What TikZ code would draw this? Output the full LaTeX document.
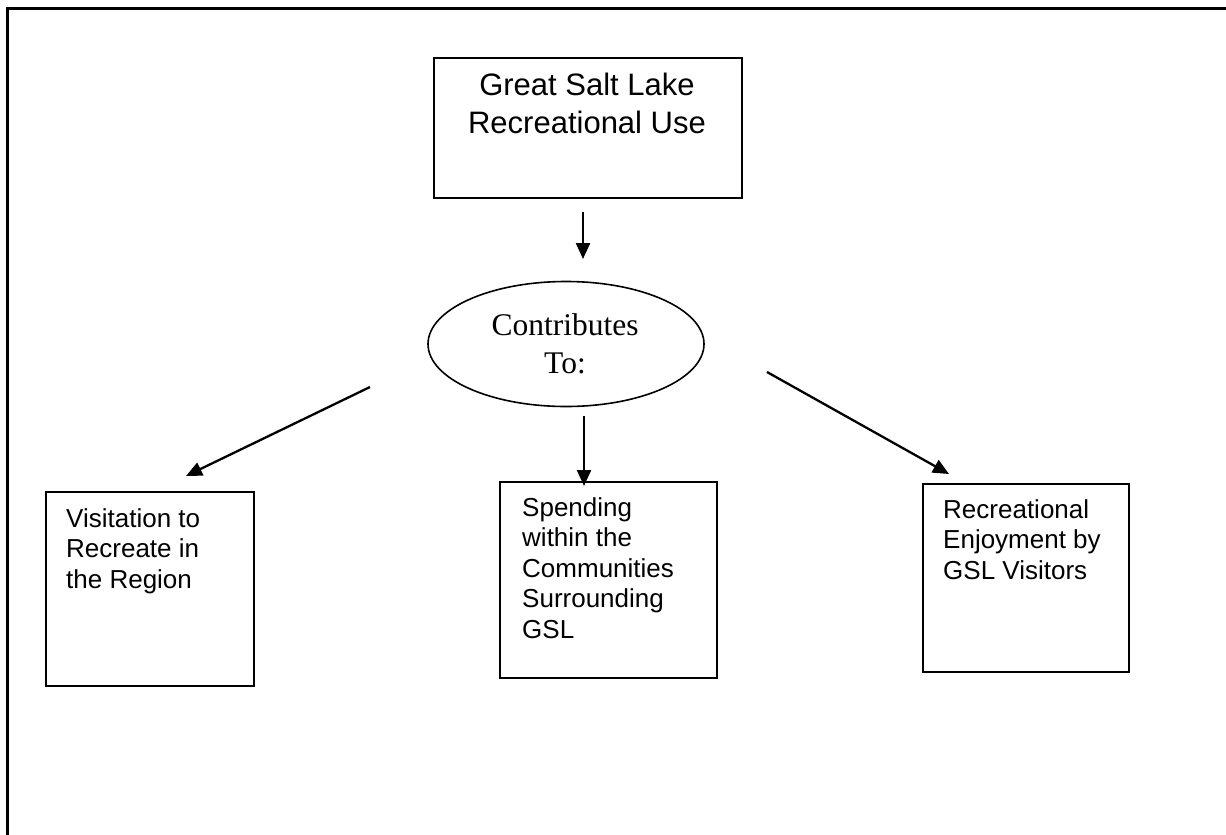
\documentclass[tikz,border=0pt]{standalone}
\usepackage{fontspec}
\setmainfont{Liberation Sans}
\newfontfamily\timesfont{Liberation Serif}
\usetikzlibrary{arrows.meta,shapes.geometric}
\tikzset{
  boxstyle/.style={draw=black, line width=1.8pt, rectangle, inner sep=0pt, anchor=north west},
  arrowstyle/.style={line width=2.3pt, -{Triangle[length=16pt,width=14pt]}},
  labelstyle/.style={anchor=base west, inner sep=0pt, align=left},
  bigtext/.style={font=\fontsize{31}{38}\selectfont},
  smalltext/.style={font=\fontsize{26}{30.4}\selectfont},
}
\begin{document}
\begin{tikzpicture}[x=1pt,y=-1pt]
\useasboundingbox[fill=white] (0,0) rectangle (1226,835);
% outer frame (top and left edges only)
\draw[line width=3pt] (7,835) -- (7,8) -- (1226,8);

% top box
\node[boxstyle, minimum width=308pt, minimum height=140pt] (top) at (433,57) {};
\node[inner sep=0pt, anchor=base, align=center, bigtext] (toptext) at (587,133) {Great Salt Lake\\Recreational Use};

% ellipse
\node[draw, ellipse, line width=1.6pt, minimum width=276pt, minimum height=125pt, inner sep=0pt] (ell) at (566,344) {};
\node[inner sep=0pt, anchor=base, align=center, font=\timesfont\fontsize{31.5}{38}\selectfont] (elltext) at (565,373) {Contributes\\To:};

% bottom boxes
\node[boxstyle, minimum width=208pt, minimum height=194pt] (left) at (45,491) {};
\node[labelstyle, smalltext] (lefttext) at (66,588) {Visitation to\\Recreate in\\the Region};

\node[boxstyle, minimum width=217pt, minimum height=196pt] (mid) at (499,481) {};
\node[labelstyle, smalltext] (midtext) at (522,638) {Spending\\within the\\Communities\\Surrounding\\GSL};

\node[boxstyle, minimum width=206pt, minimum height=188pt] (right) at (922,483) {};
\node[labelstyle, smalltext] (righttext) at (943,579) {Recreational\\Enjoyment by\\GSL Visitors};

% connector end points
\coordinate (a1s) at (583,212);
\coordinate (a1e) at (583,259);
\coordinate (a2s) at (584,416);
\coordinate (a2e) at (584,486);
\coordinate (a3s) at (370,387);
\coordinate (a3e) at (186,476);
\coordinate (a4s) at (767,372);
\coordinate (a4e) at (949,474);

\draw[arrowstyle] (a1s) -- (a1e);
\draw[arrowstyle] (a2s) -- (a2e);
\draw[arrowstyle] (a3s) -- (a3e);
\draw[arrowstyle] (a4s) -- (a4e);
\end{tikzpicture}
\end{document}
